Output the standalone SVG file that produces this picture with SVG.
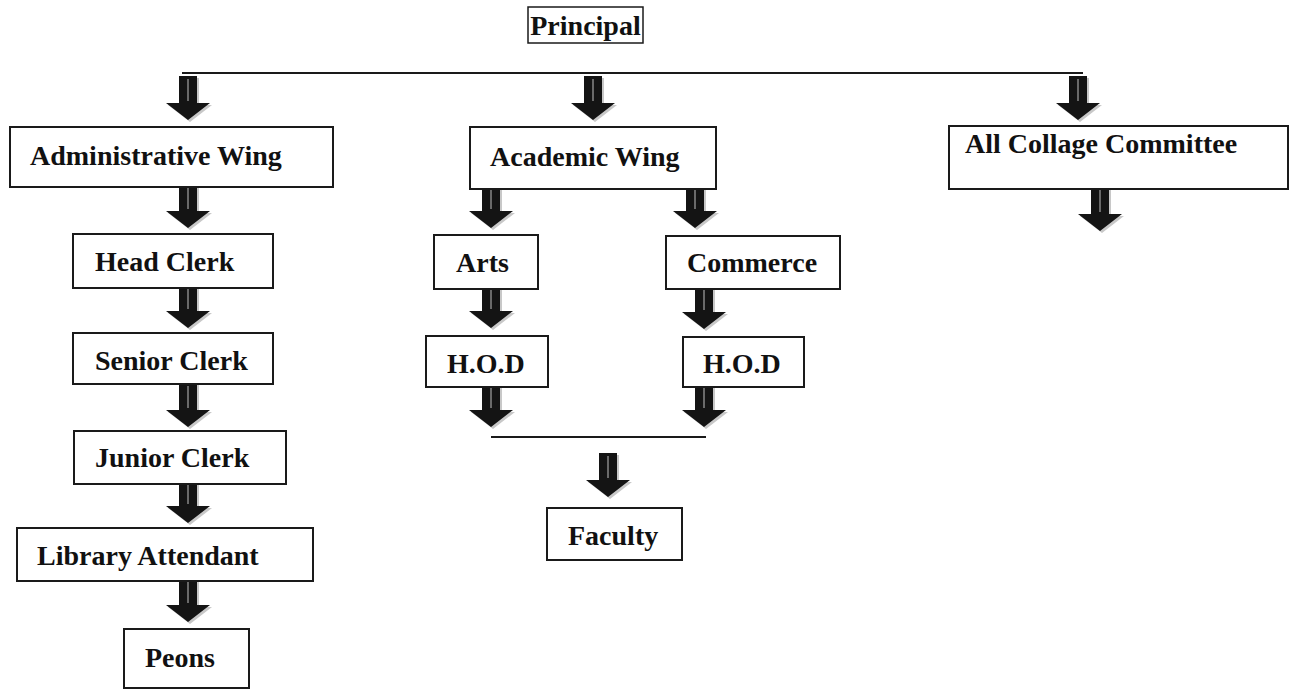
<svg xmlns="http://www.w3.org/2000/svg" xmlns:xlink="http://www.w3.org/1999/xlink" width="1295" height="691" viewBox="0 0 1295 691">
<style>
.box{fill:#fff;stroke:#1a1a1a;stroke-width:2}
.lbl{font-family:"Liberation Serif","Times New Roman",serif;font-weight:bold;font-size:28px;fill:#111}
.ln{stroke:#1a1a1a;stroke-width:2;fill:none}
.arr{fill:#141414}
.shadow{fill:#c8c8c8}
.stripe{stroke:#6a6a6a;stroke-width:2}
</style>
<defs>
<g id="arrow">
<path class="shadow" d="M-7,-42 H11 V-15 H24 L2,2 L-20,-15 H-7 Z"/>
<path class="arr" d="M-9,-44 H9 V-17 H22 L0,0 L-22,-17 H-9 Z"/>
<line class="stripe" x1="0" y1="-41" x2="0" y2="-19"/>
</g>
</defs>
<rect width="1295" height="691" fill="#fff"/>
<g id="connectors">
<line class="ln" x1="182" y1="73" x2="1083" y2="73"/>
<line class="ln" x1="491" y1="437" x2="706" y2="437"/>
<use xlink:href="#arrow" x="188" y="120"/>
<use xlink:href="#arrow" x="593" y="120"/>
<use xlink:href="#arrow" x="1078" y="120"/>
<use xlink:href="#arrow" x="1100" y="231"/>
<use xlink:href="#arrow" x="188" y="228"/>
<use xlink:href="#arrow" x="188" y="328"/>
<use xlink:href="#arrow" x="188" y="427"/>
<use xlink:href="#arrow" x="188" y="523"/>
<use xlink:href="#arrow" x="188" y="622"/>
<use xlink:href="#arrow" x="491" y="228"/>
<use xlink:href="#arrow" x="695" y="228"/>
<use xlink:href="#arrow" x="491" y="328"/>
<use xlink:href="#arrow" x="704" y="329"/>
<use xlink:href="#arrow" x="491" y="427"/>
<use xlink:href="#arrow" x="704" y="427"/>
<use xlink:href="#arrow" x="608" y="497"/>
</g>
<g id="principal">
<rect class="box" x="528" y="7" width="115" height="36" style="stroke-width:1.5"/>
<text class="lbl" x="585.5" y="35" text-anchor="middle">Principal</text>
</g>
<g id="administrative-wing">
<rect class="box" x="10" y="127" width="323" height="60"/>
<text class="lbl" x="30" y="165">Administrative Wing</text>
</g>
<g id="academic-wing">
<rect class="box" x="470" y="127" width="246" height="62"/>
<text class="lbl" x="490" y="166">Academic Wing</text>
</g>
<g id="all-collage-committee">
<rect class="box" x="949" y="126" width="339" height="63"/>
<text class="lbl" x="965" y="153">All Collage Committee</text>
</g>
<g id="head-clerk">
<rect class="box" x="73" y="234" width="200" height="54"/>
<text class="lbl" x="95" y="271">Head Clerk</text>
</g>
<g id="senior-clerk">
<rect class="box" x="73" y="333" width="200" height="51"/>
<text class="lbl" x="95" y="370">Senior Clerk</text>
</g>
<g id="junior-clerk">
<rect class="box" x="74" y="431" width="212" height="53"/>
<text class="lbl" x="95" y="467">Junior Clerk</text>
</g>
<g id="library-attendant">
<rect class="box" x="17" y="528" width="296" height="53"/>
<text class="lbl" x="37" y="565">Library Attendant</text>
</g>
<g id="peons">
<rect class="box" x="124" y="629" width="125" height="59"/>
<text class="lbl" x="145" y="667">Peons</text>
</g>
<g id="arts">
<rect class="box" x="434" y="235" width="104" height="54"/>
<text class="lbl" x="456" y="272">Arts</text>
</g>
<g id="commerce">
<rect class="box" x="666" y="236" width="174" height="53"/>
<text class="lbl" x="687" y="272">Commerce</text>
</g>
<g id="hod-arts">
<rect class="box" x="426" y="336" width="122" height="51"/>
<text class="lbl" x="447" y="373">H.O.D</text>
</g>
<g id="hod-commerce">
<rect class="box" x="683" y="337" width="121" height="50"/>
<text class="lbl" x="703" y="373">H.O.D</text>
</g>
<g id="faculty">
<rect class="box" x="547" y="508" width="135" height="52"/>
<text class="lbl" x="568" y="545">Faculty</text>
</g>
</svg>
